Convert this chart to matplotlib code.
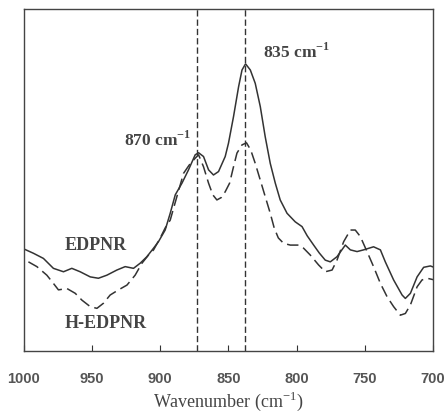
import matplotlib
matplotlib.use("Agg")
import matplotlib.pyplot as plt

# EDPNR (solid)
wn_edpnr = [1000.0, 992.8, 985.5, 978.2, 970.8, 964.7, 958.6, 951.2, 945.2, 939.0,
            931.7, 925.6, 919.5, 914.6, 909.7, 904.8, 901.2, 896.3, 892.6, 888.9,
            884.0, 879.2, 874.3, 871.8, 868.2, 864.5, 860.9, 857.2, 852.3, 849.9,
            846.2, 842.5, 840.0, 837.4, 833.9, 830.3, 826.6, 823.0, 819.3, 815.6,
            812.0, 807.0, 801.0, 796.0, 792.2, 787.5, 783.4, 779.0, 775.3, 770.4,
            764.3, 760.6, 755.7, 750.9, 743.6, 738.6, 735.0, 728.9, 722.7, 720.3,
            716.6, 711.7, 706.9, 702.0, 700.0]
abs_edpnr = [0.299, 0.286, 0.271, 0.242, 0.232, 0.242, 0.232, 0.217, 0.213, 0.222,
             0.237, 0.247, 0.242, 0.257, 0.276, 0.301, 0.320, 0.354, 0.403, 0.457,
             0.491, 0.530, 0.574, 0.580, 0.569, 0.530, 0.515, 0.525, 0.569, 0.608,
             0.686, 0.773, 0.822, 0.840, 0.822, 0.783, 0.715, 0.627, 0.549, 0.491,
             0.442, 0.403, 0.378, 0.364, 0.337, 0.310, 0.287, 0.266, 0.261, 0.276,
             0.310, 0.296, 0.291, 0.296, 0.305, 0.296, 0.261, 0.208, 0.164, 0.154,
             0.169, 0.217, 0.245, 0.249, 0.246]

# H-EDPNR (dashed)
wn_hedpnr = [996.5, 990.3, 983.0, 978.2, 974.5, 968.3, 962.2, 957.3, 951.2, 946.3,
             941.5, 936.6, 930.5, 924.3, 918.3, 913.3, 908.5, 904.8, 899.9, 896.3,
             892.6, 887.7, 882.8, 878.7, 874.3, 871.8, 868.2, 864.5, 861.4, 858.4,
             855.2, 852.3, 849.1, 846.4, 843.7, 840.0, 836.7, 833.6, 830.3, 826.6,
             823.0, 819.3, 816.4, 813.4, 809.5, 804.6, 798.5, 794.9, 790.0, 783.9,
             779.0, 774.0, 770.4, 765.5, 760.6, 757.0, 753.3, 748.4, 743.6, 738.6,
             733.7, 728.9, 724.0, 720.3, 716.6, 711.7, 708.1, 704.4, 700.0]
abs_hedpnr = [0.261, 0.247, 0.222, 0.198, 0.179, 0.183, 0.169, 0.149, 0.130, 0.125,
              0.140, 0.164, 0.179, 0.193, 0.222, 0.257, 0.281, 0.296, 0.331, 0.360,
              0.383, 0.452, 0.520, 0.544, 0.564, 0.574, 0.539, 0.491, 0.457, 0.442,
              0.449, 0.466, 0.491, 0.536, 0.579, 0.603, 0.609, 0.588, 0.549, 0.500,
              0.452, 0.403, 0.360, 0.331, 0.315, 0.310, 0.310, 0.301, 0.281, 0.252,
              0.232, 0.237, 0.266, 0.320, 0.354, 0.354, 0.335, 0.291, 0.247, 0.198,
              0.159, 0.130, 0.105, 0.110, 0.135, 0.188, 0.208, 0.213, 0.209]

peak_positions = [873, 838]
peak_labels = ["870 cm$^{\\mathregular{-1}}$", "835 cm$^{\\mathregular{-1}}$"]
xticks = [1000, 950, 900, 850, 800, 750, 700]

fig = plt.figure(figsize=(4.46, 4.15), dpi=100)
ax = fig.add_axes([0.053, 0.154, 0.918, 0.824])

ink = "#333333"
ax.plot(wn_edpnr, abs_edpnr, color=ink, lw=1.1, solid_joinstyle="round")
ax.plot(wn_hedpnr, abs_hedpnr, color=ink, lw=1.1, dashes=(7.5, 3.5))

for p in peak_positions:
    ax.axvline(p, color=ink, lw=1.0, dashes=(4.5, 2.2))

ax.set_xlim(1000, 700)
ax.set_ylim(0, 1.0)
ax.set_xticks(xticks)
ax.set_xticklabels([str(t) for t in xticks], fontfamily="Liberation Sans",
                   fontweight="bold", fontsize=10.5, color="#555555")
ax.set_yticks([])
ax.tick_params(axis="x", direction="in", length=4, width=0.8, pad=15, color=ink)
for s in ax.spines.values():
    s.set_linewidth(1.0)
    s.set_color("#444444")

ax.set_xlabel("Wavenumber (cm$^{\\mathregular{-1}}$)", fontfamily="Liberation Serif",
              fontsize=13, color="#444444", labelpad=3)

serif_bold = dict(fontfamily="Liberation Serif", fontweight="bold", color="#444444")
ax.text(902, 0.617, peak_labels[0], ha="center", va="center", fontsize=12.5, **serif_bold)
ax.text(824.4, 0.875, peak_labels[1], ha="left", va="center", fontsize=12.5, **serif_bold)
ax.text(947, 0.31, "EDPNR", ha="center", va="center", fontsize=13, **serif_bold)
ax.text(939.7, 0.081, "H-EDPNR", ha="center", va="center", fontsize=13, **serif_bold)

fig.savefig("out.png", dpi=100, facecolor="white")
